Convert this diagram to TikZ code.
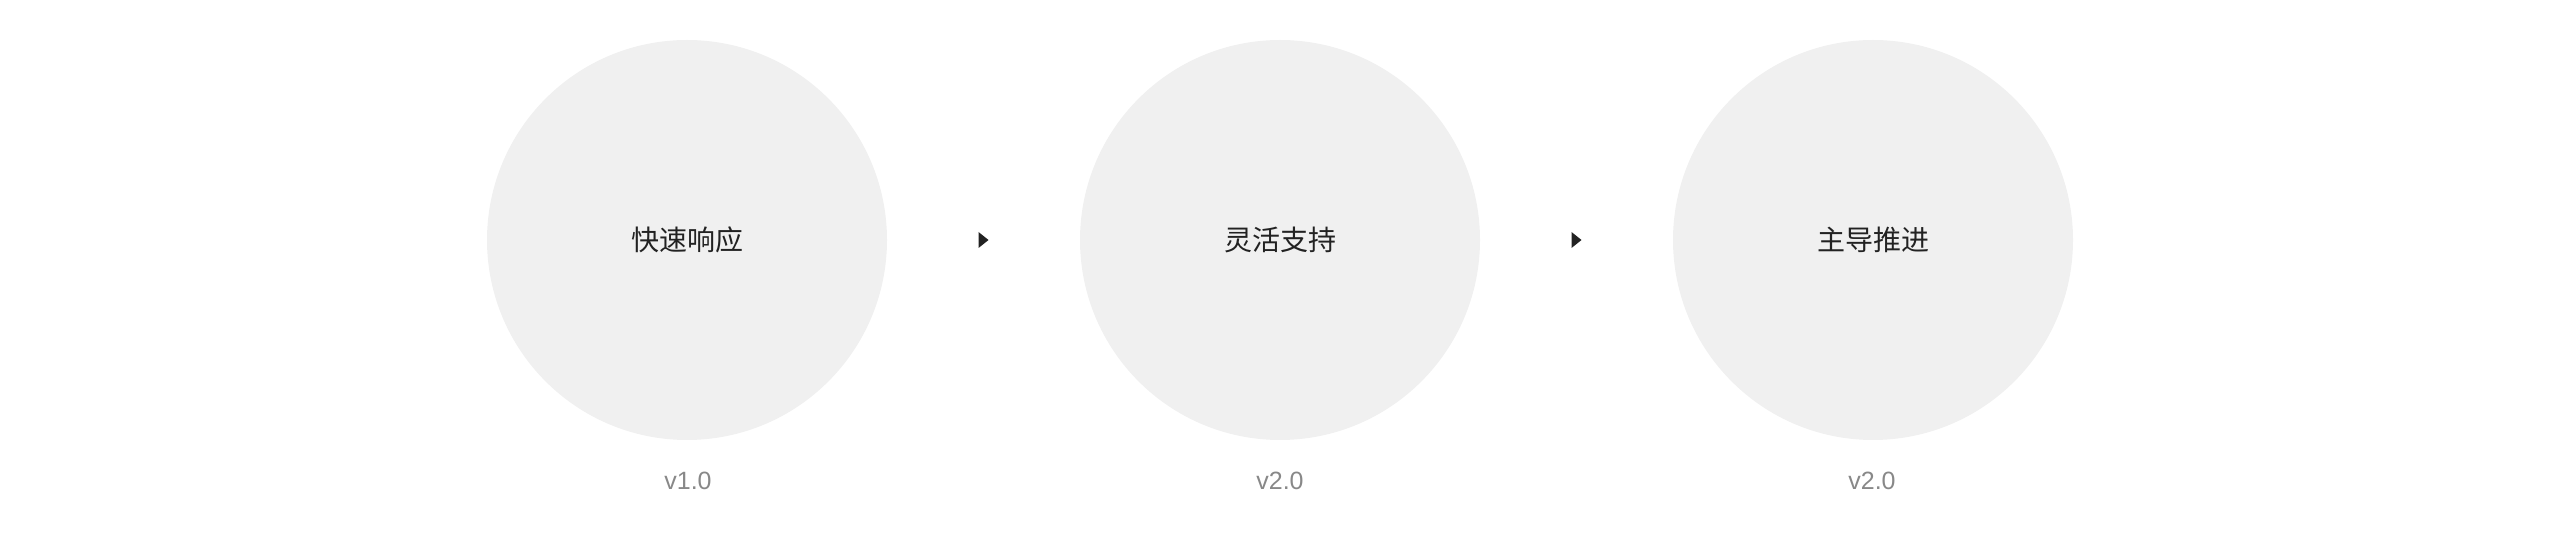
\documentclass[tikz,border=0pt]{standalone}
\usepackage{fontspec}
\setmainfont{Liberation Sans}
\newfontfamily\cjk{Noto Sans CJK SC}
\usetikzlibrary{calc}
\definecolor{circfill}{HTML}{F0F0F0}
\definecolor{txtdark}{HTML}{222222}
\definecolor{txtgrey}{HTML}{888888}
\tikzset{
  stage/.style={circle, fill=circfill, draw=none, minimum size=400pt, inner sep=0pt,
    font=\cjk\fontsize{28pt}{32pt}\selectfont, text=txtdark},
  verlabel/.style={font=\fontsize{25pt}{28pt}\selectfont, text=txtgrey, inner sep=0pt},
  tri/.style={fill=txtdark, draw=none}
}
\begin{document}
\begin{tikzpicture}[x=1pt,y=1pt]
\useasboundingbox (0,0) rectangle (2560,540);
\node[stage] (c1) at (687,300) {快速响应};
\node[stage] (c2) at (1280,300) {灵活支持};
\node[stage] (c3) at (1873,300) {主导推进};
\node[verlabel] (v1) at (688,59) {v1.0};
\node[verlabel] (v2) at (1280,59) {v2.0};
\node[verlabel] (v3) at (1872,59) {v2.0};
\coordinate (t1) at ($(c1.east)!0.5!(c2.west)$);
\coordinate (t2) at ($(c2.east)!0.5!(c3.west)$);
\fill[tri] (t1) ++(-5,8) -- ++(10,-8) -- ++(-10,-8) -- cycle;
\fill[tri] (t2) ++(-5,8) -- ++(10,-8) -- ++(-10,-8) -- cycle;
\end{tikzpicture}
\end{document}
